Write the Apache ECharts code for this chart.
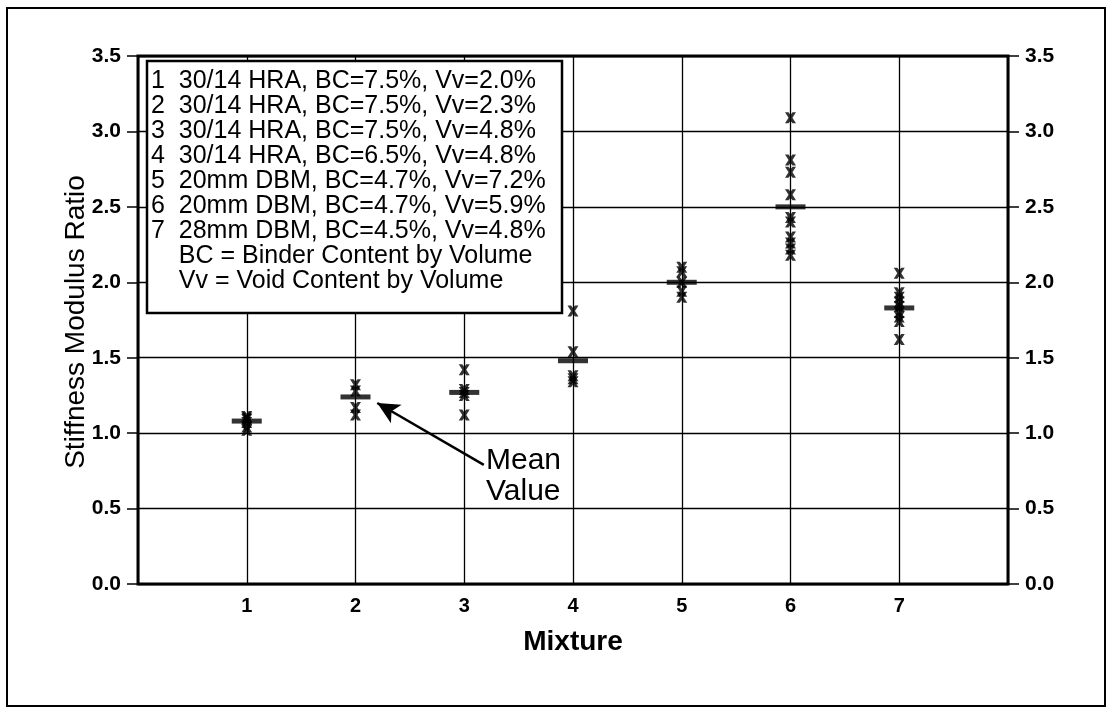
<!DOCTYPE html>
<html>
<head>
<meta charset="utf-8">
<script src="https://cdn.jsdelivr.net/npm/echarts@6/dist/echarts.min.js"></script>
<style>
html,body{margin:0;padding:0;background:#fff;}
#c{width:1113px;height:724px;}
</style>
</head>
<body>
<div id="c"></div>
<script>
// ---- data ----
var mixtures = [1, 2, 3, 4, 5, 6, 7];
var mix1 = [1.11, 1.10, 1.09, 1.07, 1.04, 1.02];
var mix2 = [1.32, 1.28, 1.17, 1.12];
var mix3 = [1.42, 1.29, 1.27, 1.25, 1.12];
var mix4 = [1.81, 1.54, 1.38, 1.36, 1.34];
var mix5 = [2.10, 2.07, 2.00, 1.94, 1.90];
var mix6 = [3.09, 2.81, 2.73, 2.58, 2.43, 2.40, 2.30, 2.26, 2.22, 2.18];
var mix7 = [2.06, 1.93, 1.90, 1.87, 1.84, 1.80, 1.77, 1.74, 1.62];
var meanValues = [1.08, 1.24, 1.27, 1.48, 2.00, 2.50, 1.83];
var yTicks = [0, 0.5, 1.0, 1.5, 2.0, 2.5, 3.0, 3.5];
var yAxisTitle = "Stiffness Modulus Ratio";
var xAxisTitle = "Mixture";
var legendLines = [
  "1  30/14 HRA, BC=7.5%, Vv=2.0%",
  "2  30/14 HRA, BC=7.5%, Vv=2.3%",
  "3  30/14 HRA, BC=7.5%, Vv=4.8%",
  "4  30/14 HRA, BC=6.5%, Vv=4.8%",
  "5  20mm DBM, BC=4.7%, Vv=7.2%",
  "6  20mm DBM, BC=4.7%, Vv=5.9%",
  "7  28mm DBM, BC=4.5%, Vv=4.8%",
  "    BC = Binder Content by Volume",
  "    Vv = Void Content by Volume"
];
var annotationText = "Mean\nValue";
var arrowFrom = [3.18, 0.79];
var arrowTo = [2.2, 1.20];

// ---- build ----
var allSets = [mix1, mix2, mix3, mix4, mix5, mix6, mix7];
var points = [];
allSets.forEach(function (arr, i) {
  arr.forEach(function (v) { points.push([mixtures[i], v]); });
});
var means = mixtures.map(function (m, i) { return [m, meanValues[i]]; });

var FONT = '"Liberation Sans", Arial, sans-serif';
var xPath = 'path://M0,0 L3.2,0 L5,2.4 L6.8,0 L10,0 L6.8,5 L10,10 L6.8,10 L5,7.6 L3.2,10 L0,10 L3.2,5 Z';

var yAxisBase = {
  type: 'value', min: 0, max: 3.5, interval: 0.5,
  axisLine: { show: true, lineStyle: { color: '#000', width: 2 } },
  axisTick: { show: true, inside: false, length: 11, lineStyle: { color: '#000', width: 1.5 } },
  axisLabel: { color: '#000', fontSize: 21, fontWeight: 'bold', fontFamily: FONT, margin: 17,
    formatter: function (v) { return v.toFixed(1); } },
  splitLine: { show: true, lineStyle: { color: '#000', width: 1.3 } }
};

var chart = echarts.init(document.getElementById('c'));
chart.setOption({
  backgroundColor: '#fff',
  animation: false,
  grid: { left: 138, right: 105, top: 56, bottom: 140, show: true, borderColor: '#000', borderWidth: 3, backgroundColor: 'transparent' },
  xAxis: {
    type: 'value', min: 0, max: 8, interval: 1,
    name: xAxisTitle, nameLocation: 'middle', nameGap: 44,
    nameTextStyle: { color: '#000', fontSize: 28, fontWeight: 'bold', fontFamily: FONT },
    axisLine: { show: true, onZero: false, lineStyle: { color: '#000', width: 2 } },
    axisTick: { show: false },
    axisLabel: { color: '#000', fontSize: 20, fontWeight: 'bold', fontFamily: FONT, margin: 12,
      formatter: function (v) { return mixtures.indexOf(v) >= 0 ? String(v) : ''; } },
    splitLine: { show: true, lineStyle: { color: '#000', width: 1.3 } }
  },
  yAxis: [
    Object.assign({}, yAxisBase, { position: 'left' }),
    Object.assign({}, yAxisBase, { position: 'right', splitLine: { show: false } })
  ],
  series: [
    {
      type: 'scatter', data: points, symbol: xPath, symbolSize: 11,
      itemStyle: { color: '#000' }, z: 5,
      markLine: {
        silent: true, symbol: ['none', 'arrow'], symbolSize: [16, 22],
        lineStyle: { color: '#000', width: 2.5, type: 'solid' },
        label: { show: false },
        data: [[{ coord: arrowFrom }, { coord: arrowTo }]]
      }
    },
    {
      type: 'scatter', data: means, symbol: 'rect', symbolSize: [30, 5],
      itemStyle: { color: '#000' }, z: 6
    }
  ],
  graphic: [
    { type: 'rect', shape: { x: 7, y: 8, width: 1098, height: 698 }, style: { fill: 'none', stroke: '#000', lineWidth: 2 }, z: 0 },
    { type: 'text', x: 76, y: 322, rotation: Math.PI / 2, z: 11,
      style: { text: yAxisTitle, font: '28px ' + FONT, fill: '#000', align: 'center', verticalAlign: 'middle' } },
    { type: 'rect', shape: { x: 147, y: 61, width: 415, height: 252 }, style: { fill: '#fff', stroke: '#000', lineWidth: 2.5 }, z: 10 },
    { type: 'text', left: 151, top: 69, z: 11,
      style: { text: legendLines.join('\n'), font: '25px ' + FONT, fill: '#000', lineHeight: 25 } },
    { type: 'text', left: 486, top: 445, z: 11,
      style: { text: annotationText, font: '30px ' + FONT, fill: '#000', lineHeight: 31, align: 'left' } }
  ]
});
</script>
</body>
</html>
